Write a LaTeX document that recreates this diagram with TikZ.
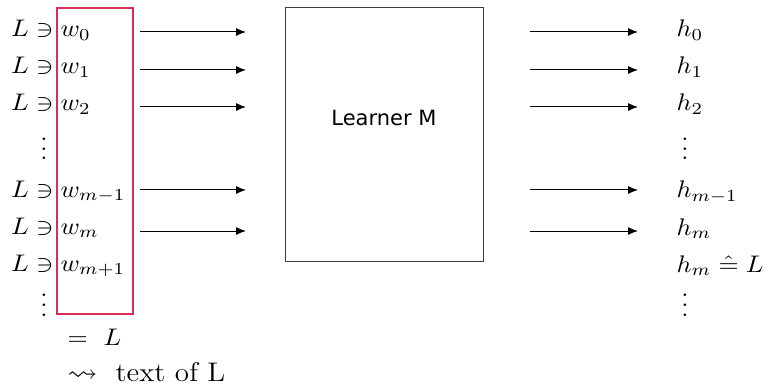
\documentclass[tikz,border=0pt]{standalone}
\usepackage{amsmath,amssymb}
\usepackage{graphicx}
\usepackage{fontspec}
\newfontfamily\learnerfont{DejaVu Sans}
\usetikzlibrary{arrows.meta}
\definecolor{boxred}{RGB}{218,45,85}
\definecolor{boxgray}{RGB}{60,60,60}
\tikzset{
  bigfont/.style={font=\normalsize, xscale=2.6, yscale=2.4, transform shape},
  mtext/.style={inner sep=0pt, anchor=base west, bigfont},
  ltext/.style={inner sep=0pt, anchor=base east, bigfont},
  dotsnode/.style={inner sep=0pt, anchor=base, bigfont},
  inarrow/.style={-{Latex[length=10pt,width=8pt]}, line width=1pt},
}
\begin{document}
\begin{tikzpicture}[x=1pt,y=-1pt]
\useasboundingbox (0,0) rectangle (769,385);
% red box
\draw[boxred, line width=1.1pt] (57,8) rectangle (133,314);
% learner box
\node[draw=boxgray, line width=1pt, minimum width=198pt, minimum height=253pt, inner sep=0pt] (M) at (384,134.5) {};
\node[inner sep=0pt, font=\learnerfont\fontsize{21}{25}\selectfont] (Mlabel) at (384,118) {Learner M};
% left column
\foreach \i/\b/\w in {0/37/w_0, 1/74/w_1, 2/111/w_2, 3/197/w_{m-1}, 4/234/w_m, 5/271/w_{m+1}} {
  \node[ltext] (L\i) at (54,\b) {$L\ni$};
  \node[mtext] (w\i) at (60,\b) {$\w$};
}
\node[dotsnode] (ld1) at (44,160) {$\vdots$};
\node[dotsnode] (ld2) at (44,316) {$\vdots$};
\node[mtext] (eqL) at (67,345) {$=\ L$};
\node[mtext] (txt) at (67,381) {\scalebox{1.15}{$\rightsquigarrow$}\hspace{0.7em}\fontsize{11.2}{13}\selectfont text of L};
% right column
\foreach \i/\b/\h in {0/37/h_0, 1/74/h_1, 2/111/h_2, 3/198/h_{m-1}, 4/235/h_m} {
  \node[mtext] (h\i) at (676,\b) {$\h$};
}
\node[mtext] (h5) at (676,272) {$h_m \mathrel{\hat{=}} L$};
\node[dotsnode] (rd1) at (685,160) {$\vdots$};
\node[dotsnode] (rd2) at (685,316) {$\vdots$};
% arrows
\foreach \i/\y in {0/32, 1/70, 2/107, 3/190, 4/231} {
  \coordinate (a\i) at (140,\y);
  \coordinate (b\i) at (246,\y);
  \coordinate (c\i) at (530,\y);
  \coordinate (d\i) at (638,\y);
  \draw[inarrow] (a\i) -- (b\i);
  \draw[inarrow] (c\i) -- (d\i);
}
\end{tikzpicture}
\end{document}
